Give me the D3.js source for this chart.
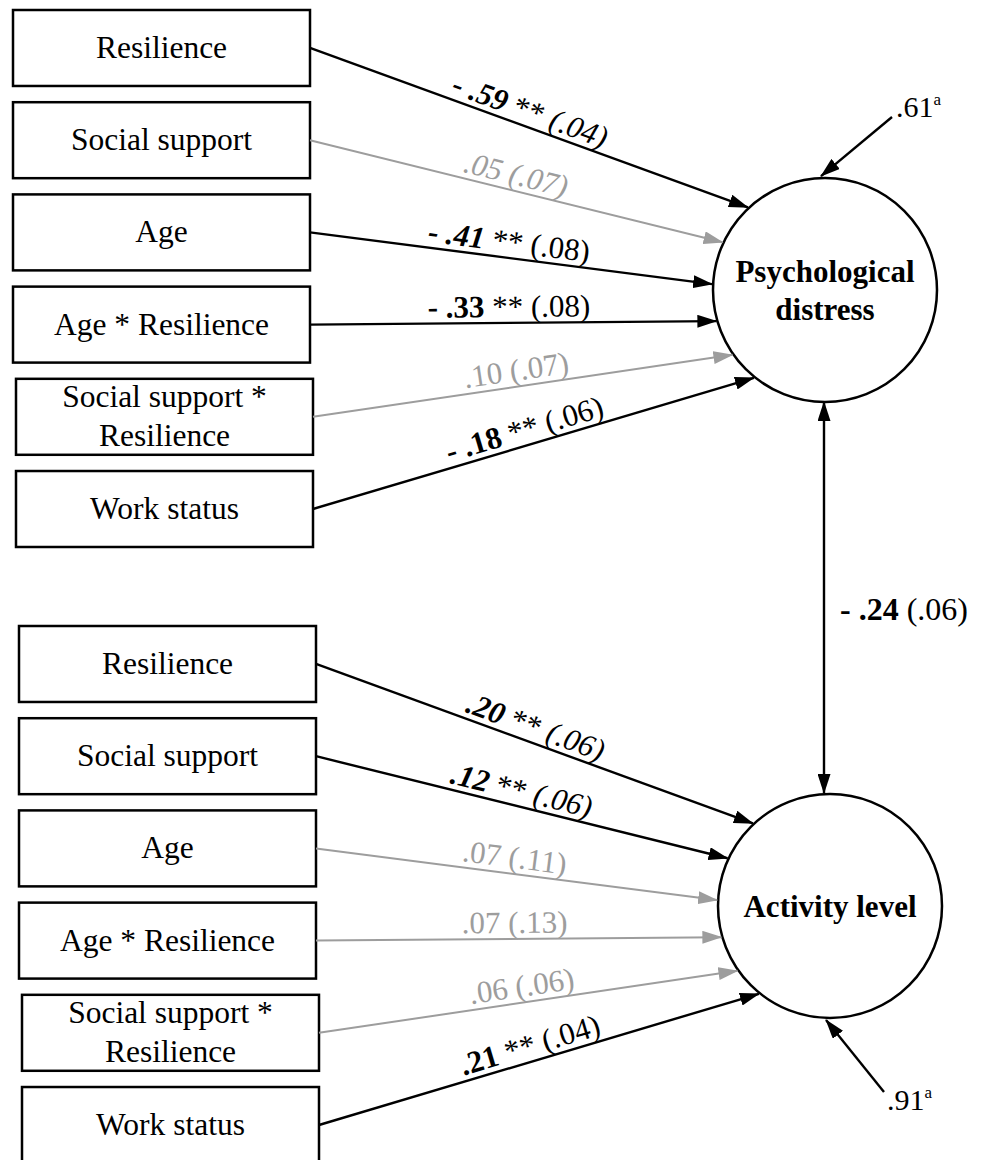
<!DOCTYPE html>
<html>
<head>
<meta charset="utf-8">
<script src="https://cdn.jsdelivr.net/npm/d3@7"></script>
<style>
  body { margin: 0; background: #fff; }
  svg text { font-family: "Liberation Serif", "Times New Roman", serif; }
</style>
</head>
<body>
<div id="diagram"></div>
<script>
// predictors (same list feeds both outcomes)
const predictors = ["Resilience", "Social support", "Age", "Age * Resilience", "Social support *|Resilience", "Work status"]
const outcomes = ["Psychological|distress", "Activity level"]

// path coefficients and standard errors
const distressCoef = [-0.59, 0.05, -0.41, -0.33, 0.10, -0.18]
const distressSE = [0.04, 0.07, 0.08, 0.08, 0.07, 0.06]
const distressSig = [true, false, true, true, false, true]

const activityCoef = [0.20, 0.12, 0.07, 0.07, 0.06, 0.21]
const activitySE = [0.06, 0.06, 0.11, 0.13, 0.06, 0.04]
const activitySig = [true, true, false, false, false, true]

// unexplained variance and the residual covariance
const residuals = [0.61, 0.91]
const covCoef = -0.24
const covSE = 0.06

const svgWidth = 990
const svgHeight = 1160
const black = "#000"
const grey = "#9d9d9d"

let svg = d3.select("#diagram")
  .append("svg")
  .attr("width", svgWidth)
  .attr("height", svgHeight)
  .attr("font-family", "Liberation Serif, Times New Roman, serif")

let defs = svg.append("defs")
;[["tip-black", black], ["tip-grey", grey]].forEach(([id, col]) => {
  defs.append("marker")
    .attr("id", id)
    .attr("markerUnits", "userSpaceOnUse")
    .attr("markerWidth", 20)
    .attr("markerHeight", 13)
    .attr("refX", 19)
    .attr("refY", 6.5)
    .attr("orient", "auto-start-reverse")
    .append("path")
    .attr("d", "M0,0 L20,6.5 L0,13 Z")
    .attr("fill", col)
})

// label text helpers
const num = v => (v < 0 ? "- " : "") + d3.format(".2f")(Math.abs(v)).replace(/^0/, "")
const se = v => "(" + d3.format(".2f")(v).replace(/^0/, "") + ")"

// layout of the two blocks
const blocks = [
  {
    coef: distressCoef, se: distressSE, sig: distressSig,
    outcome: outcomes[0], residual: residuals[0],
    yRange: [10, 547], xLeft: 13, shift: [0, 0, 0, 0, 3, 3],
    cx: 825, cy: 290,
    coefItalic: [1, 1, 1, 0, 0, 0], seItalic: [1, 1, 0, 0, 0, 0],
    resTail: [892, 117], resAngle: 268, resText: [896, 117]
  },
  {
    coef: activityCoef, se: activitySE, sig: activitySig,
    outcome: outcomes[1], residual: residuals[1],
    yRange: [626, 1163], xLeft: 19, shift: [0, 0, 0, 0, 3, 3],
    cx: 830, cy: 906,
    coefItalic: [1, 1, 0, 0, 0, 0], seItalic: [1, 1, 0, 0, 0, 0],
    resTail: [884, 1092], resAngle: 92, resText: [887, 1110]
  }
]

const boxWidth = 297
const radius = 112
const arrowAngles = [227, 205, 183, 164, 145, 129]
const rad = a => a * Math.PI / 180

blocks.forEach(b => {
  let y = d3.scaleBand()
    .domain(predictors)
    .range(b.yRange)
    .paddingInner(0.176)

  let g = svg.append("g")

  // predictor boxes
  let boxes = g.selectAll("g.box")
    .data(predictors)
    .enter()
    .append("g")
    .attr("class", "box")
    .attr("transform", (d, i) => `translate(${b.xLeft + b.shift[i]}, ${y(d)})`)

  boxes.append("rect")
    .attr("width", boxWidth)
    .attr("height", y.bandwidth())
    .attr("fill", "#fff")
    .attr("stroke", black)
    .attr("stroke-width", 2.5)

  boxes.each(function(d) {
    let lines = d.split("|")
    d3.select(this).selectAll("text")
      .data(lines)
      .enter()
      .append("text")
      .attr("x", boxWidth / 2)
      .attr("y", (l, j) => y.bandwidth() / 2 + (j - (lines.length - 1) / 2) * 39 + 10)
      .attr("text-anchor", "middle")
      .attr("font-size", 31.5)
      .text(l => l)
  })

  // outcome circle
  g.append("circle")
    .attr("cx", b.cx)
    .attr("cy", b.cy)
    .attr("r", radius)
    .attr("fill", "#fff")
    .attr("stroke", black)
    .attr("stroke-width", 2.5)

  let outLines = b.outcome.split("|")
  g.selectAll("text.outcome")
    .data(outLines)
    .enter()
    .append("text")
    .attr("class", "outcome")
    .attr("x", b.cx)
    .attr("y", (l, j) => b.cy + (j - (outLines.length - 1) / 2) * 38 + 11)
    .attr("text-anchor", "middle")
    .attr("font-size", 31)
    .attr("font-weight", "bold")
    .text(l => l)

  // paths from predictors to outcome
  predictors.forEach((p, i) => {
    let x1 = b.xLeft + b.shift[i] + boxWidth
    let y1 = y(p) + y.bandwidth() / 2
    let x2 = b.cx + (radius + 1) * Math.cos(rad(arrowAngles[i]))
    let y2 = b.cy + (radius + 1) * Math.sin(rad(arrowAngles[i]))
    let col = b.sig[i] ? black : grey

    g.append("line")
      .attr("x1", x1).attr("y1", y1)
      .attr("x2", x2).attr("y2", y2)
      .attr("stroke", col)
      .attr("stroke-width", b.sig[i] ? 2.4 : 2)
      .attr("marker-end", `url(#${b.sig[i] ? "tip-black" : "tip-grey"})`)

    let t = 0.49
    let mx = x1 + (x2 - x1) * t
    let my = y1 + (y2 - y1) * t
    let ang = Math.atan2(y2 - y1, x2 - x1) * 180 / Math.PI

    let label = g.append("text")
      .attr("transform", `translate(${mx}, ${my}) rotate(${ang})`)
      .attr("y", -6)
      .attr("text-anchor", "middle")
      .attr("font-size", 31)
      .attr("fill", col)

    label.append("tspan")
      .attr("font-weight", b.sig[i] ? "bold" : "normal")
      .attr("font-style", b.coefItalic[i] ? "italic" : "normal")
      .text(num(b.coef[i]))
    if (b.sig[i]) {
      label.append("tspan").text(" **")
    }
    label.append("tspan")
      .attr("font-style", b.seItalic[i] ? "italic" : "normal")
      .text(" " + se(b.se[i]))
  })

  // residual arrow
  let rx = b.cx + (radius + 2) * Math.cos(rad(b.resAngle))
  let ry = b.cy + (radius + 2) * Math.sin(rad(b.resAngle))
  g.append("line")
    .attr("x1", b.resTail[0]).attr("y1", b.resTail[1])
    .attr("x2", rx).attr("y2", ry)
    .attr("stroke", black)
    .attr("stroke-width", 2.4)
    .attr("marker-end", "url(#tip-black)")

  let res = g.append("text")
    .attr("x", b.resText[0])
    .attr("y", b.resText[1])
    .attr("font-size", 30)
    .text(num(b.residual))
  res.append("tspan")
    .attr("font-size", 17)
    .attr("dy", -12)
    .text("a")
})

// covariance between the two outcomes
let covX = 824
svg.append("line")
  .attr("x1", covX).attr("y1", blocks[0].cy + radius)
  .attr("x2", covX).attr("y2", blocks[1].cy - radius - 1)
  .attr("stroke", black)
  .attr("stroke-width", 2.4)
  .attr("marker-start", "url(#tip-black)")
  .attr("marker-end", "url(#tip-black)")

let cov = svg.append("text")
  .attr("x", 840)
  .attr("y", 620)
  .attr("font-size", 32)
cov.append("tspan").attr("font-weight", "bold").text(num(covCoef))
cov.append("tspan").text(" " + se(covSE))
</script>
</body>
</html>
